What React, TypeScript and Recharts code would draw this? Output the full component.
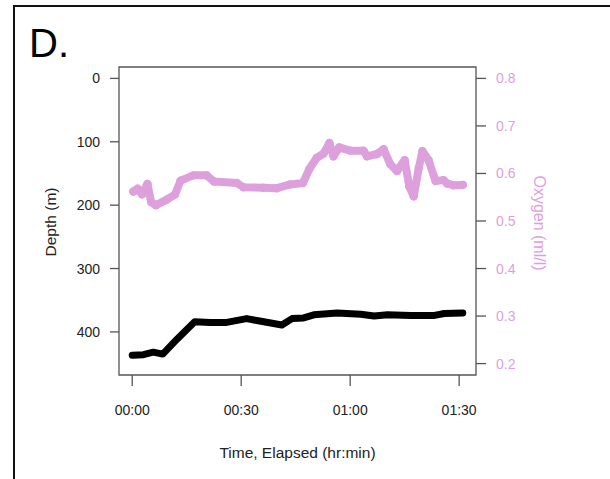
import React from "react";
import { ComposedChart, Line, XAxis, YAxis, ReferenceArea } from "recharts";

// elapsed minutes
const depthTime = [0, 3.1, 5.8, 8.4, 12.4, 17.2, 21.4, 26.0, 31.5, 34.3, 41.2, 44.0, 47.2, 50.0, 56.4, 62.9, 66.6, 70.3, 76.7, 83.2, 85.9, 91.0];
const depthM = [437, 436, 432, 435, 411, 384, 385, 385, 379, 382, 389, 379, 378, 373, 370, 372, 375, 373, 374, 374, 371, 370];

const oxygenTime = [0.3, 1.5, 2.7, 4.2, 5.2, 6.5, 9.5, 11.8, 13.3, 16.8, 20.5, 22.5, 28.8, 30.6, 36.1, 39.8, 43.5, 47.0, 48.8, 50.8, 52.7, 54.3, 55.4, 57.0, 60.0, 63.7, 64.6, 67.4, 69.2, 71.0, 72.9, 75.0, 76.3, 77.5, 78.9, 79.9, 81.6, 83.5, 85.7, 86.7, 88.5, 91.0];
const oxygenMl = [0.562, 0.568, 0.556, 0.578, 0.54, 0.533, 0.545, 0.556, 0.585, 0.596, 0.596, 0.583, 0.58, 0.571, 0.57, 0.569, 0.577, 0.58, 0.61, 0.633, 0.642, 0.664, 0.636, 0.655, 0.648, 0.648, 0.636, 0.641, 0.651, 0.62, 0.605, 0.628, 0.572, 0.552, 0.612, 0.647, 0.628, 0.584, 0.586, 0.579, 0.575, 0.576];

const timeTicks = [0, 30, 60, 90];
const timeLabels = ["00:00", "00:30", "01:00", "01:30"];
const depthTicks = [0, 100, 200, 300, 400];
const oxygenTicks = [0.2, 0.3, 0.4, 0.5, 0.6, 0.7, 0.8];

const depthData = depthTime.map((t, i) => ({ t, v: depthM[i] }));
const oxygenData = oxygenTime.map((t, i) => ({ t, v: oxygenMl[i] }));

const FONT = '"Liberation Sans", Arial, sans-serif';
const PINK = "#dda0dd";
const AXIS = "#555";
const xDomain: [number, number] = [-3.64, 94.64];

const XTick = (props: any) => {
  const { x, y, payload } = props;
  const i = timeTicks.indexOf(payload.value);
  return (
    <text x={x} y={y + 24} textAnchor="middle" dominantBaseline="central" fontSize={14} fill="#222" fontFamily={FONT}>
      {timeLabels[i]}
    </text>
  );
};

const DepthTick = (props: any) => {
  const { x, y, payload } = props;
  return (
    <text x={x - 10} y={y} textAnchor="end" dominantBaseline="central" fontSize={14} fill="#222" fontFamily={FONT}>
      {payload.value}
    </text>
  );
};

const OxyTick = (props: any) => {
  const { x, y, payload } = props;
  return (
    <text x={x + 10} y={y} textAnchor="start" dominantBaseline="central" fontSize={14} fill={PINK} fontFamily={FONT}>
      {payload.value.toFixed(1)}
    </text>
  );
};

export default function App() {
  return (
    <div style={{ position: "absolute", left: 0, top: 0, width: 610, height: 479, background: "#fff", overflow: "hidden" }}>
      <div
        style={{
          position: "absolute",
          left: 13,
          top: 5,
          width: 700,
          height: 600,
          borderLeft: "2px solid #111",
          borderTop: "2px solid #111",
        }}
      />
      <svg width={120} height={70} style={{ position: "absolute", left: 0, top: 0 }}>
        <text x={29} y={57} fontSize={40} fontFamily={FONT} fill="#000">
          D.
        </text>
      </svg>
      <div style={{ position: "absolute", left: 0, top: 0 }}>
        <ComposedChart width={610} height={479} margin={{ top: 67, right: 74, bottom: 64, left: 59 }}>
          <XAxis
            dataKey="t"
            type="number"
            domain={xDomain}
            ticks={timeTicks}
            tick={<XTick />}
            tickSize={11}
            tickMargin={0}
            tickLine={{ stroke: AXIS, strokeWidth: 1.3 }}
            axisLine={false}
            height={40}
            allowDataOverflow
            label={{
              content: (p: any) => {
                const vb = p.viewBox;
                return (
                  <text x={vb.x + vb.width / 2} y={452} textAnchor="middle" dominantBaseline="central" fontSize={15.5} fill="#222" fontFamily={FONT}>
                    Time, Elapsed (hr:min)
                  </text>
                );
              },
            }}
          />
          <YAxis
            yAxisId="depth"
            type="number"
            domain={[-18, 468]}
            reversed
            ticks={depthTicks}
            tick={<DepthTick />}
            tickSize={9}
            tickMargin={0}
            tickLine={{ stroke: AXIS, strokeWidth: 1.3 }}
            axisLine={false}
            width={60}
            allowDataOverflow
            label={{
              content: (p: any) => {
                const vb = p.viewBox;
                const cx = vb.x - 9;
                const cy = 222;
                return (
                  <text x={cx} y={cy} transform={`rotate(-90 ${cx} ${cy})`} textAnchor="middle" dominantBaseline="central" fontSize={15.5} fill="#222" fontFamily={FONT}>
                    Depth (m)
                  </text>
                );
              },
            }}
          />
          <YAxis
            yAxisId="oxygen"
            orientation="right"
            type="number"
            domain={[0.176, 0.824]}
            ticks={oxygenTicks}
            tick={<OxyTick />}
            tickSize={10}
            tickMargin={0}
            tickLine={{ stroke: AXIS, strokeWidth: 1.3 }}
            axisLine={false}
            width={60}
            allowDataOverflow
            label={{
              content: (p: any) => {
                const vb = p.viewBox;
                const cx = vb.x + 63.5;
                const cy = 223;
                return (
                  <text x={cx} y={cy} transform={`rotate(90 ${cx} ${cy})`} textAnchor="middle" dominantBaseline="central" fontSize={16} fill={PINK} fontFamily={FONT}>
                    Oxygen (ml/l)
                  </text>
                );
              },
            }}
          />
          <ReferenceArea
            yAxisId="depth"
            x1={xDomain[0]}
            x2={xDomain[1]}
            y1={-18}
            y2={468}
            fill="none"
            stroke={AXIS}
            strokeWidth={1.3}
            ifOverflow="visible"
          />
          <Line
            yAxisId="oxygen"
            data={oxygenData}
            dataKey="v"
            type="linear"
            stroke={PINK}
            strokeWidth={8}
            strokeLinejoin="round"
            strokeLinecap="round"
            dot={{ r: 4.2, fill: PINK, stroke: "none" }}
            isAnimationActive={false}
          />
          <Line
            yAxisId="depth"
            data={depthData}
            dataKey="v"
            type="linear"
            stroke="#000"
            strokeWidth={7}
            strokeLinejoin="round"
            strokeLinecap="round"
            dot={false}
            isAnimationActive={false}
          />
        </ComposedChart>
      </div>
    </div>
  );
}
